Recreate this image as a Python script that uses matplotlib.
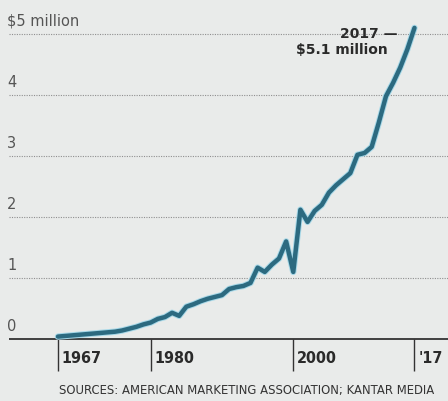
import matplotlib
matplotlib.use("Agg")
import matplotlib.pyplot as plt
import matplotlib.patheffects as pe

# Super Bowl 30-second ad cost, $ millions
years = list(range(1967, 2018))
cost = [0.04, 0.05, 0.06, 0.07, 0.08, 0.09, 0.10, 0.11, 0.12, 0.14,
        0.17, 0.20, 0.24, 0.27, 0.33, 0.36, 0.43, 0.38, 0.53, 0.57,
        0.62, 0.66, 0.69, 0.72, 0.82, 0.85, 0.87, 0.92, 1.17, 1.10,
        1.22, 1.32, 1.60, 1.10, 2.12, 1.92, 2.10, 2.20, 2.40, 2.52,
        2.62, 2.72, 3.02, 3.05, 3.15, 3.55, 3.98, 4.20, 4.45, 4.75,
        5.10]
grid_vals = [1, 2, 3, 4, 5]
y_labels = ["0", "1", "2", "3", "4", "$5 million"]
tick_years = [1967, 1980, 2000, 2017]
tick_labels = ["1967", "1980", "2000", "'17"]

bg = "#e9ebea"
line_col = "#2c6a80"
txt = "#2a2a2a"

fig = plt.figure(figsize=(4.48, 4.02), dpi=100, facecolor=bg)
ax = fig.add_axes([0, 0, 1, 1])
ax.set_facecolor(bg)
ax.set_xlim(1958.87, 2021.7)
ax.set_ylim(-1.016, 5.574)
ax.axis("off")

x0 = 1960.2
ax.hlines(grid_vals, x0, 2021.7, colors="#8f8f8f", linestyles=(0, (1, 1.2)), lw=0.8)
ax.hlines(0, x0, 2021.7, colors="#333333", lw=1.3)
ax.vlines(tick_years, -0.52, 0, colors="#333333", lw=1.0)

for i, lab in enumerate(y_labels):
    ax.text(x0 - 0.3, i + 0.1, lab, fontsize=10.5, color="#555555",
            ha="left", va="bottom")

for yr, lab in zip(tick_years, tick_labels):
    ax.text(yr + 0.55, -0.3, lab, fontsize=11.5, fontweight="bold",
            fontstretch="condensed", color=txt, ha="left", va="center")

ax.plot(years, cost, color=line_col, lw=3.2, solid_capstyle="round",
        path_effects=[pe.Stroke(linewidth=4.6, foreground="#a6d8e8"), pe.Normal()])

ax.text(2014.6, 5.02, "2017 \u2014", fontsize=10, fontweight="bold",
        color=txt, ha="right", va="center")
ax.text(2013.3, 4.75, "$5.1 million", fontsize=10, fontweight="bold",
        color=txt, ha="right", va="center")

ax.text(1967.2, -0.82, "SOURCES: AMERICAN MARKETING ASSOCIATION; KANTAR MEDIA",
        fontsize=8.4, family=["Liberation Sans Narrow", "DejaVu Sans"],
        color="#333333", ha="left", va="center")

fig.savefig("out.png", dpi=100, facecolor=bg)
